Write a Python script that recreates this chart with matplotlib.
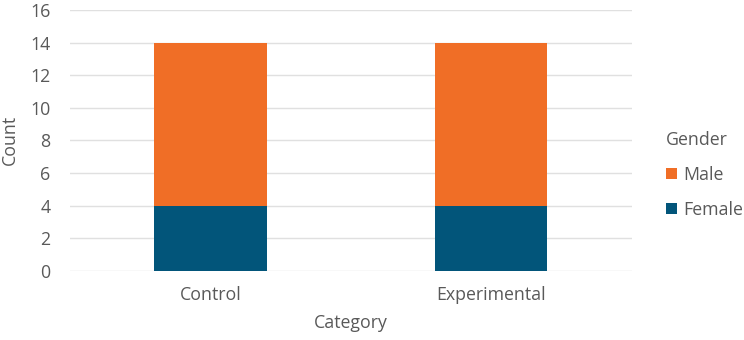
import matplotlib
matplotlib.use('Agg')
import matplotlib.pyplot as plt
import numpy as np

# Data
categories = ['Control', 'Experimental']
female = [4, 4]
male = [10, 10]
colors = {'Female': '#02557A', 'Male': '#F06E26'}

plt.rcParams['font.family'] = ['Open Sans', 'DejaVu Sans']
text_color = '#595959'
fs = 12.8

fig = plt.figure(figsize=(7.44, 3.40), dpi=100)
ax = fig.add_axes([0.094, 0.203, 0.755, 0.768])

x = np.arange(len(categories))
width = 0.4
ax.bar(x, female, width, color=colors['Female'], label='Female', zorder=3)
ax.bar(x, male, width, bottom=female, color=colors['Male'], label='Male', zorder=3)

ax.set_xlim(-0.5, 1.5)
ax.set_ylim(0, 16)
ax.set_yticks(np.arange(0, 17, 2))
ax.set_xticks(x)
ax.set_xticklabels(categories)
ax.yaxis.grid(True, color='#E0E0E0', linewidth=1, zorder=0)
for s in ax.spines.values():
    s.set_visible(False)
ax.tick_params(length=0, colors=text_color, labelsize=fs)
ax.tick_params(axis='x', pad=11)
ax.tick_params(axis='y', pad=14)
ax.set_xlabel('Category', color=text_color, fontsize=fs, labelpad=7)
ax.set_ylabel('Count', color=text_color, fontsize=fs, labelpad=8)

handles, labels = ax.get_legend_handles_labels()
leg = fig.legend(handles[::-1], labels[::-1], title='Gender', loc='center left',
                 bbox_to_anchor=(0.874, 0.485), frameon=False, fontsize=fs,
                 title_fontsize=fs, handlelength=0.6, handleheight=0.6,
                 handletextpad=0.35, labelspacing=0.95, alignment='left')
for t in leg.get_texts():
    t.set_color(text_color)
leg.get_title().set_color(text_color)

plt.savefig('out.png', dpi=100)
